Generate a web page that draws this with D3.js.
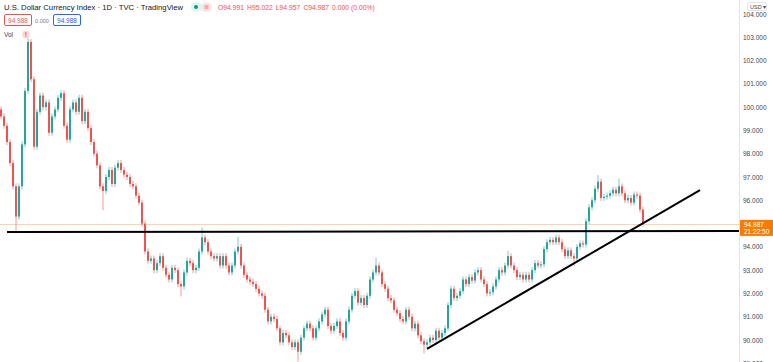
<!DOCTYPE html>
<html>
<head>
<meta charset="utf-8">
<script src="https://cdn.jsdelivr.net/npm/d3@7"></script>
<style>
  body { margin: 0; background: #fff; }
  svg { display: block; font-family: "Liberation Sans", Arial, sans-serif; }
</style>
</head>
<body>
<svg width="773" height="362"></svg>
<script>
// daily closes (oldest first), open = previous close
const firstOpen = 99.9;
const closes = [
  99.6, 99.2, 98.5, 97.6, 96.6, 95.3, 96.6, 98.4, 100.7, 102.8,
  101.2, 98.3, 99.8, 100.5, 100.0, 100.2, 98.9, 99.6, 99.9, 100.4,
  100.6, 99.2, 98.6, 99.9, 100.2, 99.8, 100.4, 99.4, 99.8, 99.1,
  98.5, 98.0, 97.5, 96.6, 96.4, 97.0, 97.3, 96.7, 97.4, 97.6,
  97.3, 97.1, 97.0, 96.7, 96.6, 96.2, 95.9, 95.0, 93.8, 93.4,
  93.5, 93.0, 93.3, 93.6, 93.1, 92.8, 92.6, 93.1, 93.0, 92.4,
  92.3, 92.9, 93.4, 93.3, 93.0, 93.1, 93.8, 94.4, 94.2, 93.8,
  93.6, 93.5, 93.6, 93.2, 93.6, 93.2, 92.9, 93.2, 93.8, 94.0,
  93.2, 92.8, 92.6, 92.5, 92.4, 92.2, 92.0, 91.9, 91.3, 90.8,
  91.0, 90.9, 90.5, 89.9, 90.3, 90.2, 89.9, 89.7, 89.9, 89.5,
  90.1, 90.5, 90.7, 90.5, 90.1, 90.5, 90.8, 91.1, 91.3, 90.6,
  90.4, 90.6, 90.8, 90.3, 90.1, 90.8, 91.3, 91.9, 92.1, 91.6,
  91.8, 91.5, 91.9, 92.6, 92.9, 93.2, 92.9, 92.4, 92.2, 91.8,
  91.7, 91.3, 91.15, 90.9, 90.8, 91.3, 91.0, 90.5, 90.7, 90.2,
  89.95, 89.8, 89.9, 90.1, 90.0, 90.4, 90.1, 90.3, 90.5, 91.5,
  92.2, 91.8, 91.9, 92.1, 92.6, 92.4, 92.7, 92.55, 92.9, 93.0,
  92.6, 92.4, 92.0, 92.05, 92.3, 92.6, 93.0, 92.9, 93.2, 93.6,
  93.2, 93.0, 92.7, 92.8, 92.6, 92.8, 92.6, 93.0, 93.3, 93.2,
  93.25, 93.9, 94.2, 94.3, 94.2, 94.4, 94.2, 93.9, 93.6, 93.85,
  93.6, 93.5, 94.0, 94.15, 94.1, 95.1, 95.7, 96.0, 96.5, 96.8,
  96.1, 96.15, 96.2, 96.3, 96.45, 96.3, 96.6, 96.3, 96.0, 96.1,
  95.9, 96.25, 96.2, 95.6, 94.987
];
// candles whose wick reaches further than the body
const spikeIdx = [5, 9, 34, 60, 67, 79, 99, 125, 141, 169, 191, 199, 206];
const spikePrice = [94.7, 103.0, 95.7, 92.0, 94.7, 94.3, 89.2, 93.4, 89.55, 93.7, 93.3, 96.95, 96.8];

const priceTicks = [104, 103, 102, 101, 100, 99, 98, 97, 96, 94, 93, 92, 91, 90, 89];
const lastPrice = 94.987;
const lastTime = "21:22:50";
const ohlc = ["O", "94.991", "H", "95.022", "L", "94.957", "C", "94.987", "0.000 (0.00%)"];
const bidAsk = ["94.988", "0.000", "94.988"];

// hand drawn lines, as [candle index, price]
const supportLine = [[2, 94.64], [246, 94.68]];
const trendLine = [[142, 89.62], [233, 96.44]];

const svg = d3.select("svg");
const plotRight = 739;

const x = d3.scaleLinear().domain([0, closes.length - 1]).range([1, 643]);
const y = d3.scaleLinear().domain([90, 104]).range([340, 14]);

const up = "#26a69a", down = "#ef5350";

const candles = closes.map((c, i) => {
  const o = i === 0 ? firstOpen : closes[i - 1];
  let hi = Math.max(o, c), lo = Math.min(o, c);
  const k = spikeIdx.indexOf(i);
  if (k >= 0) { hi = Math.max(hi, spikePrice[k]); lo = Math.min(lo, spikePrice[k]); }
  return {i, o, c, hi, lo};
});

// current price line
svg.append("line")
  .attr("x1", 0).attr("x2", plotRight)
  .attr("y1", Math.round(y(lastPrice)) + 0.5).attr("y2", Math.round(y(lastPrice)) + 0.5)
  .attr("stroke", "#ffd2a8").attr("stroke-width", 1);

const g = svg.append("g");
g.selectAll("line.wick")
  .data(candles)
  .enter()
  .append("line")
  .attr("class", "wick")
  .attr("x1", d => x(d.i)).attr("x2", d => x(d.i))
  .attr("y1", d => y(d.hi) - 3)
  .attr("y2", d => y(d.lo) + 3)
  .attr("stroke", d => d.c >= d.o ? up : down)
  .attr("stroke-opacity", 0.6)
  .attr("stroke-width", 1);

g.selectAll("rect.body")
  .data(candles)
  .enter()
  .append("rect")
  .attr("class", "body")
  .attr("x", d => x(d.i) - 1)
  .attr("width", 2)
  .attr("y", d => y(Math.max(d.o, d.c)))
  .attr("height", d => Math.max(1, Math.abs(y(d.o) - y(d.c))))
  .attr("fill", d => d.c >= d.o ? up : down);

// drawn lines
const line = d3.line().x(d => x(d[0])).y(d => y(d[1]));
svg.append("path").attr("d", line(supportLine))
  .attr("fill", "none").attr("stroke", "#000").attr("stroke-width", 2);
svg.append("path").attr("d", line(trendLine))
  .attr("fill", "none").attr("stroke", "#000").attr("stroke-width", 2);

// cover the axis column
svg.append("rect").attr("x", plotRight).attr("y", 0)
  .attr("width", 773 - plotRight).attr("height", 362).attr("fill", "#fff");
svg.append("line").attr("x1", plotRight + 0.5).attr("x2", plotRight + 0.5)
  .attr("y1", 0).attr("y2", 362).attr("stroke", "#e0e3eb");

// price axis
const axis = svg.append("g")
  .attr("transform", `translate(${plotRight},0)`)
  .call(d3.axisRight(y).tickValues(priceTicks).tickSize(0).tickPadding(4).tickFormat(d3.format(".3f")));
axis.select(".domain").remove();
axis.selectAll("text")
  .attr("fill", "#434651")
  .style("font-size", "6.5px");

// last price label
const ly = y(lastPrice);
svg.append("rect").attr("x", plotRight + 1).attr("y", ly - 4).attr("width", 33).attr("height", 16)
  .attr("fill", "#f57c00");
svg.append("text").attr("x", plotRight + 5).attr("y", ly + 3)
  .attr("fill", "#fff").style("font-size", "6.5px").text(lastPrice.toFixed(3));
svg.append("text").attr("x", plotRight + 5).attr("y", ly + 10)
  .attr("fill", "#fff").style("font-size", "6.5px").text(lastTime);

// currency button
svg.append("rect").attr("x", 747.5).attr("y", 2.5).attr("width", 19).attr("height", 8).attr("rx", 2)
  .attr("fill", "#fff").attr("stroke", "#e0e3eb");
svg.append("text").attr("x", 750).attr("y", 8.8).attr("fill", "#434651")
  .style("font-size", "5.5px").text("USD ▾");

// header
svg.append("text").attr("x", 4).attr("y", 10)
  .attr("fill", "#131722").style("font-size", "7.7px")
  .text("U.S. Dollar Currency Index · 1D · TVC · TradingView");

svg.append("rect").attr("x", 191).attr("y", 2.5).attr("width", 11).attr("height", 9).attr("rx", 4.5).attr("fill", "#dff3ef");
svg.append("rect").attr("x", 201).attr("y", 2.5).attr("width", 11).attr("height", 9).attr("rx", 4.5).attr("fill", "#fde3e3");
svg.append("circle").attr("cx", 196).attr("cy", 7).attr("r", 2).attr("fill", "#089981");
svg.append("rect").attr("x", 204.5).attr("y", 5).attr("width", 4).attr("height", 4).attr("fill", "#f7a9a9");

const ohlcText = svg.append("text").attr("x", 218).attr("y", 10).style("font-size", "6.8px");
ohlc.forEach((t, i) => {
  ohlcText.append("tspan")
    .attr("fill", down)
    .attr("dx", i > 0 && i % 2 === 0 ? 3 : 0)
    .text(t);
});

svg.append("rect").attr("x", 4.5).attr("y", 14.5).attr("width", 27).attr("height", 11).attr("rx", 1.5)
  .attr("fill", "#fff").attr("stroke", down);
svg.append("text").attr("x", 18).attr("y", 22.5).attr("text-anchor", "middle")
  .attr("fill", down).style("font-size", "6.5px").text(bidAsk[0]);
svg.append("text").attr("x", 42).attr("y", 22.5).attr("text-anchor", "middle")
  .attr("fill", "#787b86").style("font-size", "5.5px").text(bidAsk[1]);
svg.append("rect").attr("x", 53.5).attr("y", 14.5).attr("width", 27).attr("height", 11).attr("rx", 1.5)
  .attr("fill", "#fff").attr("stroke", "#2962ff");
svg.append("text").attr("x", 67).attr("y", 22.5).attr("text-anchor", "middle")
  .attr("fill", "#2962ff").style("font-size", "6.5px").text(bidAsk[2]);

svg.append("text").attr("x", 4).attr("y", 37)
  .attr("fill", "#434651").style("font-size", "6.5px").text("Vol");
svg.append("circle").attr("cx", 26).attr("cy", 34.5).attr("r", 4).attr("fill", "#fcdada");
svg.append("text").attr("x", 26).attr("y", 37).attr("text-anchor", "middle")
  .attr("fill", down).style("font-size", "7px").style("font-weight", "bold").text("!");
</script>
</body>
</html>
